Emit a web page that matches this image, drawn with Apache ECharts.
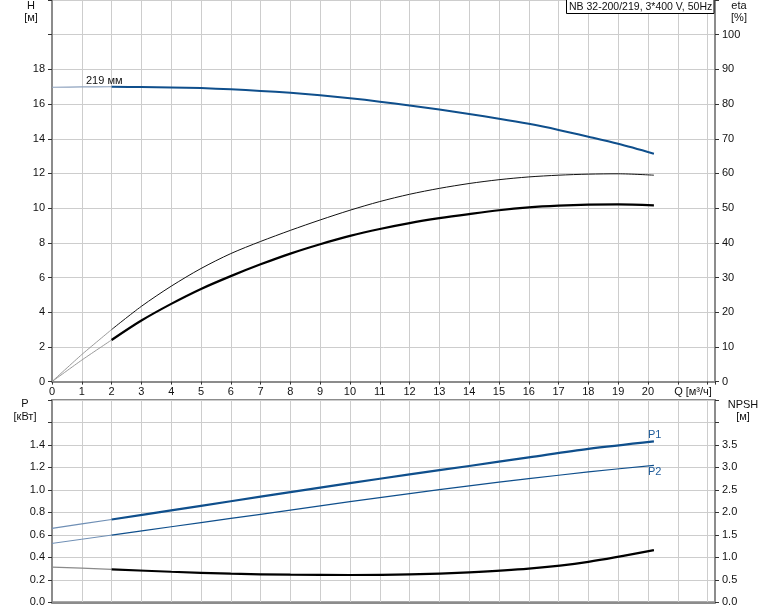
<!DOCTYPE html>
<html>
<head>
<meta charset="utf-8">
<script src="https://cdn.jsdelivr.net/npm/echarts@6/dist/echarts.min.js"></script>
<style>
html,body{margin:0;padding:0;background:#fff;}
#c{width:774px;height:611px;}
</style>
</head>
<body>
<div id="c"></div>
<script>
// ---- data ----
const qStart = [0, 1, 2];
const qMain = [2, 3, 4, 5, 6, 7, 8, 9, 10, 11, 12, 13, 14, 15, 16, 17, 18, 19, 20.2];
const qPower = [2, 4, 6, 8, 10, 12, 14, 16, 18, 20.2];

const hStart = [16.97, 16.99, 17.0];
const hMain = [17.0, 16.98, 16.96, 16.92, 16.85, 16.76, 16.65, 16.51, 16.34, 16.14, 15.92, 15.69, 15.43, 15.16, 14.86, 14.51, 14.12, 13.71, 13.14];

const etaUpperStart = [0, 7.8, 15.0];
const etaUpper = [15.0, 21.7, 27.5, 32.6, 36.9, 40.4, 43.6, 46.6, 49.4, 51.9, 54.0, 55.7, 57.1, 58.2, 59.0, 59.5, 59.8, 59.9, 59.5];
const etaLowerStart = [0, 6.2, 12.0];
const etaLower = [12.0, 17.6, 22.4, 26.7, 30.4, 33.8, 36.9, 39.6, 42.0, 44.0, 45.7, 47.1, 48.3, 49.4, 50.2, 50.7, 51.0, 51.1, 50.8];

const p1Start = [0.657, 0.697, 0.737];
const p1Main = [0.737, 0.818, 0.899, 0.980, 1.060, 1.138, 1.213, 1.289, 1.365, 1.432];
const p2Start = [0.524, 0.561, 0.598];
const p2Main = [0.598, 0.672, 0.746, 0.820, 0.895, 0.967, 1.036, 1.100, 1.160, 1.219];
const npshStart = [0.784, 0.758, 0.732];
const npshMain = [0.732, 0.680, 0.636, 0.614, 0.607, 0.620, 0.666, 0.747, 0.900, 1.160];

const hTicks = {min: 0, max: 22, interval: 2, lastLabel: 18};
const etaTicks = {min: 0, max: 110, interval: 10, lastLabel: 100};
const pTicks = {min: 0, max: 1.8, interval: 0.2, lastLabel: 1.4};
const npshTicks = {min: 0, max: 4.5, interval: 0.5, lastLabel: 3.5};
const qTicks = {min: 0, max: 22.25, interval: 1, lastLabel: 20};

const titleText = 'NB 32-200/219, 3*400 V, 50Hz';

// ---- chart ----
const pairs = (xs, ys) => xs.map((x, i) => [x, ys[i]]);
const FONT = '"Liberation Sans", Arial, sans-serif';
const AX = '#8c8c8c';
const GRID = '#cdcdcd';
const BLUE = '#0f4f8c';
const LBL = {fontFamily: FONT, fontSize: 11, color: '#111'};

function yAx(t, grid, pos, decimals, split) {
  return {
    type: 'value', gridIndex: grid, position: pos,
    min: t.min, max: t.max, interval: t.interval,
    axisLine: {show: true, lineStyle: {color: AX, width: 2}},
    axisTick: {show: true, length: 4, lineStyle: {color: '#333'}},
    splitLine: {show: split, lineStyle: {color: GRID, width: 1}},
    axisLabel: Object.assign({}, LBL, {
      margin: 7,
      formatter: v => (v > t.lastLabel + 1e-9 ? '' : (decimals ? v.toFixed(decimals) : String(v)))
    })
  };
}
function xAx(grid, showLabel) {
  return {
    type: 'value', gridIndex: grid, position: 'bottom',
    min: qTicks.min, max: qTicks.max, interval: qTicks.interval,
    axisLine: {show: true, onZero: false, lineStyle: {color: AX, width: 2}},
    axisTick: {show: showLabel, length: 3, lineStyle: {color: '#333'}},
    splitLine: {show: true, lineStyle: {color: GRID, width: 1}},
    axisLabel: Object.assign({}, LBL, {
      show: showLabel, margin: 5,
      formatter: v => (v > qTicks.lastLabel + 1e-9 ? '' : String(v))
    })
  };
}
function line(data, xi, yi, color, width, smooth) {
  return {
    type: 'line', data: data, xAxisIndex: xi, yAxisIndex: yi,
    symbol: 'none', smooth: smooth === undefined ? 0.3 : smooth,
    lineStyle: {color: color, width: width}, silent: true, z: 5
  };
}
function txt(x, y, s, opts) {
  return {
    type: 'text', x: x, y: y, silent: true, z: 20,
    style: Object.assign({text: s, font: '11px ' + FONT, fill: '#111',
      align: 'center', verticalAlign: 'middle'}, opts || {})
  };
}

const chart = echarts.init(document.getElementById('c'), null, {renderer: 'canvas'});
chart.setOption({
  animation: false,
  backgroundColor: '#fff',
  grid: [
    {left: 52, right: 59, top: 0, height: 381.6, show: false},
    {left: 52, right: 59, top: 400, height: 202.3, show: true, borderColor: AX, borderWidth: 2, backgroundColor: 'transparent'}
  ],
  xAxis: [xAx(0, true), xAx(1, false)],
  yAxis: [
    yAx(hTicks, 0, 'left', 0, true),
    yAx(etaTicks, 0, 'right', 0, false),
    yAx(pTicks, 1, 'left', 1, true),
    yAx(npshTicks, 1, 'right', 1, false)
  ],
  series: [
    line(pairs(qStart, hStart), 0, 0, '#8ea3bf', 1.2),
    line(pairs(qMain, hMain), 0, 0, BLUE, 2),
    line(pairs(qStart, etaUpperStart), 0, 1, '#9a9a9a', 1, 0.2),
    line(pairs(qMain, etaUpper), 0, 1, '#111', 1),
    line(pairs(qStart, etaLowerStart), 0, 1, '#9a9a9a', 1, 0.2),
    line(pairs(qMain, etaLower), 0, 1, '#000', 2.2),
    line(pairs(qStart, p1Start), 1, 2, '#6f8fb5', 1.2, 0),
    line(pairs(qPower, p1Main), 1, 2, BLUE, 2.2),
    line(pairs(qStart, p2Start), 1, 2, '#6f8fb5', 1, 0),
    line(pairs(qPower, p2Main), 1, 2, BLUE, 1.2),
    line(pairs(qStart, npshStart), 1, 3, '#8a8a8a', 1.2, 0),
    line(pairs(qPower, npshMain), 1, 3, '#000', 2.2)
  ],
  graphic: [
    txt(31, 6, 'H'), txt(31, 18, '[м]'),
    txt(739, 6, 'eta'), txt(739, 18, '[%]'),
    txt(25, 404, 'P'), txt(25, 417, '[кВт]'),
    txt(743, 405, 'NPSH'), txt(743, 417, '[м]'),
    txt(693, 392, 'Q [м³/ч]'),
    txt(86, 81, '219 мм', {align: 'left'}),
    txt(648, 435, 'P1', {align: 'left', fill: '#1f5c9a'}),
    txt(648, 472, 'P2', {align: 'left', fill: '#1f5c9a'}),
    {type: 'rect', silent: true, z: 19, shape: {x: 566.5, y: -1, width: 147.5, height: 14.5},
      style: {fill: '#fff', stroke: '#000', lineWidth: 1}},
    txt(569, 7, titleText, {align: 'left', font: '10.5px ' + FONT})
  ]
});
</script>
</body>
</html>
